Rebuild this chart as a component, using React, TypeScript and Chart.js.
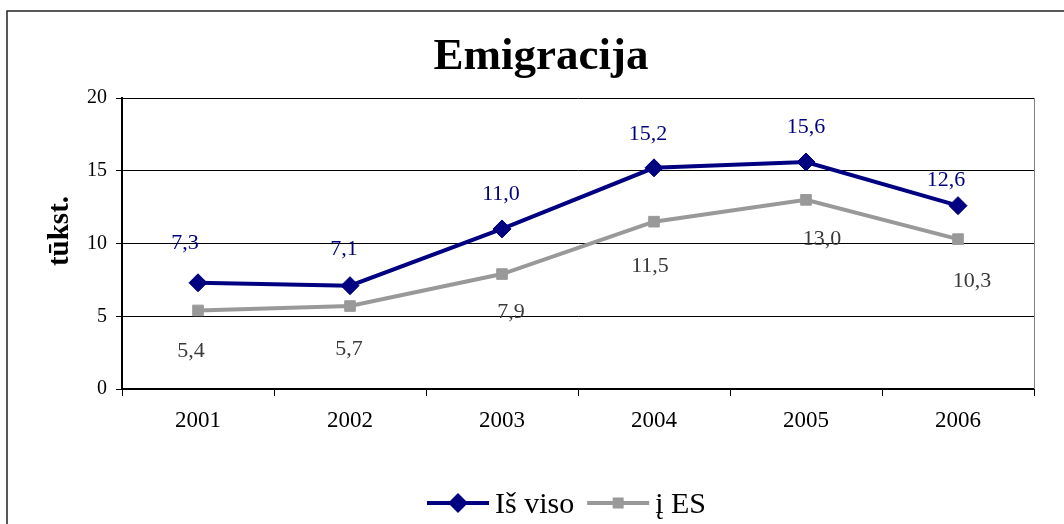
import React, { useEffect, useRef } from 'react';
import { Chart, registerables } from 'chart.js';

Chart.register(...registerables);

const years = ['2001', '2002', '2003', '2004', '2005', '2006'];
const totalValues = [7.3, 7.1, 11.0, 15.2, 15.6, 12.6];
const euValues = [5.4, 5.7, 7.9, 11.5, 13.0, 10.3];
const seriesNames = ['Iš viso', 'į ES'];
const yTicks = [0, 5, 10, 15, 20];
const chartTitle = 'Emigracija';
const yTitle = 'tūkst.';

// label placement (style): pixel offsets from each point
const totalLabelOffsets = [[-13, -40], [-6, -36], [-1, -35], [-6, -34], [0, -35], [-12, -25]];
const euLabelOffsets = [[-7, 41], [-1, 43], [9, 38], [-4, 45], [16, 39], [14, 42]];

const FONT = '"Liberation Serif", "Times New Roman", serif';
const BLUE = '#000080';
const GRAY = '#999999';

const fmt = (v: number) => v.toFixed(1).replace('.', ',');

const drawDiamond = (ctx: CanvasRenderingContext2D, x: number, y: number, r: number) => {
  ctx.beginPath();
  ctx.moveTo(x - r, y);
  ctx.lineTo(x, y - r);
  ctx.lineTo(x + r, y);
  ctx.lineTo(x, y + r);
  ctx.closePath();
  ctx.fill();
};

const decor = {
  id: 'decor',
  beforeDraw(chart: any) {
    const ctx = chart.ctx as CanvasRenderingContext2D;
    ctx.save();
    ctx.fillStyle = '#fff';
    ctx.fillRect(0, 0, chart.width, chart.height);
    ctx.strokeStyle = '#222';
    ctx.lineWidth = 1.5;
    ctx.strokeRect(7, 11, chart.width + 40, chart.height + 40);
    ctx.restore();
  },
  afterDraw(chart: any) {
    const ctx = chart.ctx as CanvasRenderingContext2D;
    const area = chart.chartArea;
    ctx.save();
    // plot area right border
    ctx.strokeStyle = '#808080';
    ctx.lineWidth = 1;
    ctx.beginPath();
    ctx.moveTo(area.right + 0.5, area.top);
    ctx.lineTo(area.right + 0.5, area.bottom);
    ctx.stroke();

    // title
    ctx.fillStyle = '#000';
    ctx.font = `bold 45px ${FONT}`;
    ctx.textAlign = 'center';
    ctx.textBaseline = 'alphabetic';
    ctx.fillText(chartTitle, 541, 69);

    // y title
    ctx.save();
    ctx.translate(68, 231);
    ctx.rotate(-Math.PI / 2);
    ctx.font = `bold 29px ${FONT}`;
    ctx.textAlign = 'center';
    ctx.textBaseline = 'alphabetic';
    ctx.fillText(yTitle, 0, 0);
    ctx.restore();

    // data labels
    const offsetsList = [totalLabelOffsets, euLabelOffsets];
    const labelColors = [BLUE, '#3a3a3a'];
    ctx.font = `22px ${FONT}`;
    ctx.textAlign = 'center';
    ctx.textBaseline = 'middle';
    chart.data.datasets.forEach((ds: any, i: number) => {
      const meta = chart.getDatasetMeta(i);
      ctx.fillStyle = labelColors[i];
      meta.data.forEach((pt: any, j: number) => {
        const [dx, dy] = offsetsList[i][j];
        ctx.fillText(fmt(ds.data[j]), pt.x + dx, pt.y + dy);
      });
    });

    // legend
    const ly = 503;
    let lx = 427;
    ctx.font = `30px ${FONT}`;
    ctx.textAlign = 'left';
    ctx.textBaseline = 'alphabetic';
    chart.data.datasets.forEach((ds: any, i: number) => {
      ctx.strokeStyle = ds.borderColor;
      ctx.fillStyle = ds.borderColor;
      ctx.lineWidth = 4;
      ctx.beginPath();
      ctx.moveTo(lx, ly);
      ctx.lineTo(lx + 62, ly);
      ctx.stroke();
      if (i === 0) {
        drawDiamond(ctx, lx + 31, ly, 10);
      } else {
        ctx.fillRect(lx + 31 - 5.5, ly - 5.5, 11, 11);
      }
      ctx.fillStyle = '#000';
      const tx = lx + 68;
      ctx.fillText(ds.label, tx, 513);
      lx = tx + ctx.measureText(ds.label).width + 13;
    });
    ctx.restore();
  },
};

export default function App() {
  const ref = useRef<HTMLCanvasElement | null>(null);

  useEffect(() => {
    if (!ref.current) return;
    const chart = new Chart(ref.current, {
      type: 'line',
      data: {
        labels: years,
        datasets: [
          {
            label: seriesNames[0],
            data: totalValues,
            borderColor: BLUE,
            backgroundColor: BLUE,
            borderWidth: 4,
            pointStyle: 'rectRot',
            pointRadius: 9,
            pointBorderWidth: 1,
            pointBackgroundColor: BLUE,
            pointBorderColor: BLUE,
            tension: 0,
          },
          {
            label: seriesNames[1],
            data: euValues,
            borderColor: GRAY,
            backgroundColor: GRAY,
            borderWidth: 4,
            pointStyle: 'rect',
            pointRadius: 7.5,
            pointBorderWidth: 1,
            pointBackgroundColor: GRAY,
            pointBorderColor: GRAY,
            tension: 0,
          },
        ],
      },
      options: {
        responsive: false,
        animation: false,
        devicePixelRatio: 1,
        layout: { padding: { left: 82, right: 30, top: 98, bottom: 85 } },
        plugins: {
          legend: { display: false },
          title: { display: false },
          tooltip: { enabled: false },
        },
        scales: {
          x: {
            type: 'category',
            offset: true,
            grid: {
              offset: true,
              drawOnChartArea: false,
              drawTicks: true,
              tickLength: 7,
              color: '#000',
              lineWidth: 1,
            },
            border: { color: '#000', width: 2 },
            ticks: {
              color: '#000',
              font: { family: FONT, size: 23 },
              padding: 11,
              maxRotation: 0,
              autoSkip: false,
            },
            afterFit: (s: any) => {
              s.height = 50;
            },
          },
          y: {
            min: 0,
            max: 20,
            grid: { color: '#000', lineWidth: 1, tickLength: 6 },
            border: { color: '#000', width: 2 },
            ticks: {
              color: '#000',
              font: { family: FONT, size: 20 },
              padding: 9,
            },
            afterBuildTicks: (s: any) => {
              s.ticks = yTicks.map((v) => ({ value: v }));
            },
            afterFit: (s: any) => {
              s.width = 40;
            },
          },
        },
      },
      plugins: [decor],
    });
    return () => chart.destroy();
  }, []);

  return (
    <div style={{ position: 'fixed', left: 0, top: 0, width: 1064, height: 524, background: '#fff', overflow: 'hidden' }}>
      <canvas ref={ref} width={1064} height={524} style={{ display: 'block' }} />
    </div>
  );
}
